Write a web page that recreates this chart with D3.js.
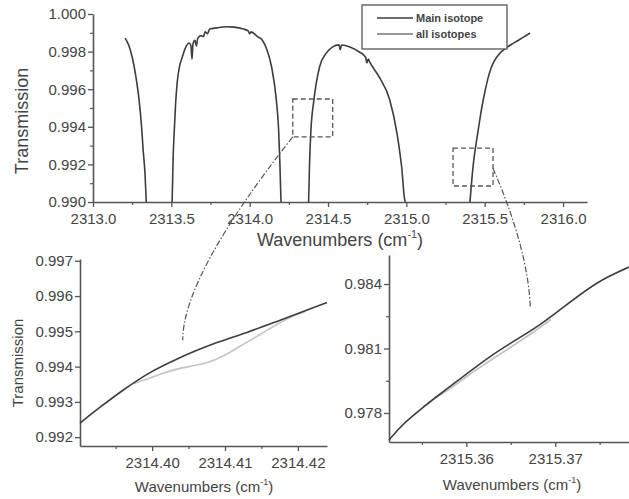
<!DOCTYPE html>
<html>
<head>
<meta charset="utf-8">
<script src="https://cdn.jsdelivr.net/npm/d3@7"></script>
<style>
  body { margin: 0; background: #fff; }
  svg text { font-family: Arial, "Liberation Sans", sans-serif; fill: #444; }
</style>
</head>
<body>
<svg id="chart" width="629" height="499"></svg>
<script>
// ---- data ----
// overview panel: transmission between the absorption lines, one array per window
var topBand1 = [[2313.205,0.99872],[2313.23,0.9983],[2313.25,0.99771],[2313.275,0.9966],[2313.294,0.99543],[2313.31,0.9940],[2313.32,0.99277],[2313.332,0.9915],[2313.34,0.9900]];
var topBand2 = [[2313.505,0.9900],[2313.512,0.9925],[2313.518,0.99367],[2313.527,0.9952],[2313.537,0.99633],[2313.552,0.9972],[2313.57,0.99771],[2313.59,0.9982],[2313.614,0.99846],[2313.625,0.9983],[2313.632,0.9976],[2313.638,0.9984],[2313.65,0.9986],[2313.66,0.9983],[2313.668,0.9987],[2313.69,0.99885],[2313.705,0.9988],[2313.715,0.99905],[2313.73,0.99895],[2313.745,0.9992],[2313.79,0.99926],[2313.85,0.99932],[2313.9,0.9993],[2313.96,0.9992],[2313.99,0.9991],[2314.0,0.99895],[2314.01,0.99905],[2314.05,0.9988],[2314.08,0.99862],[2314.11,0.9981],[2314.14,0.99718],[2314.17,0.99543],[2314.185,0.9938],[2314.193,0.9920],[2314.2,0.9900]];
var topBand3 = [[2314.376,0.9900],[2314.382,0.9920],[2314.39,0.99367],[2314.41,0.99543],[2314.446,0.99718],[2314.49,0.99793],[2314.53,0.99825],[2314.57,0.99836],[2314.578,0.9981],[2314.586,0.99835],[2314.64,0.99825],[2314.70,0.99798],[2314.74,0.9977],[2314.748,0.9974],[2314.757,0.9976],[2314.766,0.99745],[2314.83,0.9966],[2314.894,0.99543],[2314.94,0.99367],[2314.97,0.99186],[2314.99,0.9901],[2314.995,0.9900]];
var topBand4 = [[2315.406,0.9900],[2315.418,0.9912],[2315.43,0.9922],[2315.445,0.9931],[2315.46,0.9939],[2315.475,0.9947],[2315.49,0.9954],[2315.505,0.9960],[2315.52,0.99655],[2315.54,0.99710],[2315.56,0.99748],[2315.59,0.99785],[2315.63,0.99815],[2315.67,0.99838],[2315.71,0.99858],[2315.75,0.99878],[2315.79,0.99899]];

// zoom 1 (left)
var zoomLeftMain = [[2314.3901,0.99240],[2314.3930,0.99287],[2314.3960,0.99333],[2314.3993,0.99378],[2314.4038,0.99425],[2314.4089,0.99468],[2314.4130,0.99497],[2314.4175,0.99531],[2314.4210,0.99558],[2314.4240,0.99582]];
var zoomLeftAll = [[2314.3975,0.99352],[2314.3995,0.99366],[2314.4015,0.99381],[2314.4038,0.99395],[2314.4060,0.99404],[2314.4078,0.99413],[2314.4100,0.99433],[2314.4125,0.99463],[2314.4150,0.99493],[2314.4170,0.99518],[2314.4190,0.99540],[2314.4210,0.99556]];

// zoom 2 (right)
var zoomRightMain = [[2315.3513,0.97674],[2315.3525,0.97730],[2315.3552,0.97828],[2315.3581,0.97921],[2315.3626,0.98060],[2315.3682,0.98209],[2315.3753,0.98419],[2315.3783,0.98479]];
var zoomRightAll = [[2315.3565,0.97872],[2315.3581,0.97912],[2315.3605,0.97983],[2315.3638,0.98074],[2315.3661,0.98136],[2315.3685,0.98205],[2315.3695,0.98235]];

// tick labels
var topXTicks = [2313.0, 2313.5, 2314.0, 2314.5, 2315.0, 2315.5, 2316.0];
var topYTicks = [0.990, 0.992, 0.994, 0.996, 0.998, 1.000];
var leftXTicks = [2314.40, 2314.41, 2314.42];
var leftYTicks = [0.992, 0.993, 0.994, 0.995, 0.996, 0.997];
var rightXTicks = [2315.36, 2315.37];
var rightYTicks = [0.978, 0.981, 0.984];

// zoom boxes drawn on the overview, in data units
var boxes = [
  {x0: 2314.275, x1: 2314.53, y0: 0.99346, y1: 0.99548},
  {x0: 2315.298, x1: 2315.553, y0: 0.99085, y1: 0.99287}
];

var legendNames = ["Main isotope", "all isotopes"];

var svg = d3.select("#chart");
var axisCol = "#555", mainCol = "#3d3d3d", allCol = "#c4c4c4";

// ---- scales ----
var xTop = d3.scaleLinear().domain([2313.0, 2316.153]).range([93, 587]);
var yTop = d3.scaleLinear().domain([0.990, 1.000]).range([202, 14]);
var xL = d3.scaleLinear().domain([2314.3901, 2314.424]).range([80, 327]);
var yL = d3.scaleLinear().domain([0.99175, 0.99705]).range([446, 259]);
var xR = d3.scaleLinear().domain([2315.3513, 2315.3783]).range([389, 629]);
var yR = d3.scaleLinear().domain([0.97665, 0.98535]).range([442, 255]);

function styleAxis(g) {
  g.select(".domain").attr("stroke", axisCol).attr("stroke-width", 1.6);
  g.selectAll(".tick line").attr("stroke", axisCol).attr("stroke-width", 1.3);
  g.selectAll(".tick text").attr("fill", "#444").style("font-size", "15px")
    .style("font-family", "Arial, 'Liberation Sans', sans-serif");
}

function minorAxis(g, axis) {
  g.call(axis);
  g.select(".domain").remove();
  g.selectAll(".tick text").remove();
  g.selectAll(".tick line").attr("stroke", axisCol).attr("stroke-width", 1.2);
}

function panel(x, y, xt, yt, xminor, yminor, xfmt, yfmt) {
  var xb = y.range()[0], yb = x.range()[0];
  var gx = svg.append("g").attr("transform", "translate(0," + xb + ")");
  minorAxis(gx.append("g"), d3.axisBottom(x).tickValues(xminor).tickSize(3));
  gx.append("g").call(d3.axisBottom(x).tickValues(xt).tickFormat(d3.format(xfmt)).tickSize(5).tickSizeOuter(0).tickPadding(6)).call(styleAxis);
  var gy = svg.append("g").attr("transform", "translate(" + yb + ",0)");
  if (yminor.length) minorAxis(gy.append("g"), d3.axisLeft(y).tickValues(yminor).tickSize(3));
  gy.append("g").call(d3.axisLeft(y).tickValues(yt).tickFormat(d3.format(yfmt)).tickSize(5).tickSizeOuter(0).tickPadding(2)).call(styleAxis);
}

panel(xTop, yTop, topXTicks, topYTicks,
  d3.range(2313.25, 2316.1, 0.5), d3.range(0.991, 1.0, 0.002), ".1f", ".3f");
panel(xL, yL, leftXTicks, leftYTicks,
  [2314.395, 2314.405, 2314.415], [], ".2f", ".3f");
panel(xR, yR, rightXTicks, rightYTicks,
  [2315.355, 2315.365, 2315.375], [0.9795, 0.9825], ".2f", ".3f");

// ---- curves ----
function drawLine(data, x, y, col, w) {
  var line = d3.line().x(function(d) { return x(d[0]); }).y(function(d) { return y(d[1]); })
    .curve(d3.curveMonotoneX);
  svg.append("path").datum(data).attr("d", line)
    .attr("fill", "none").attr("stroke", col).attr("stroke-width", w);
}

[topBand1, topBand2, topBand3, topBand4].forEach(function(b) { drawLine(b, xTop, yTop, mainCol, 1.6); });
drawLine(zoomLeftAll, xL, yL, allCol, 1.6);
drawLine(zoomLeftMain, xL, yL, mainCol, 1.6);
drawLine(zoomRightAll, xR, yR, allCol, 1.8);
drawLine(zoomRightMain, xR, yR, mainCol, 1.6);

// ---- zoom boxes and connectors ----
boxes.forEach(function(b) {
  svg.append("rect")
    .attr("x", xTop(b.x0)).attr("y", yTop(b.y1))
    .attr("width", xTop(b.x1) - xTop(b.x0)).attr("height", yTop(b.y0) - yTop(b.y1))
    .attr("fill", "none").attr("stroke", "#555").attr("stroke-width", 1.3)
    .attr("stroke-dasharray", "5,3");
});

// connector 1: lower-left corner of box 1 to the left zoom panel
var c1s = [xTop(boxes[0].x0), yTop(boxes[0].y0)];
var c1e = [xL(2314.4042), yL(0.99475)];
svg.append("path")
  .attr("d", "M" + c1s + " Q" + [c1e[0], c1e[1] - 64] + " " + c1e)
  .attr("fill", "none").attr("stroke", "#555").attr("stroke-width", 1.2)
  .attr("stroke-dasharray", "6,2,1.5,2");

// connector 2: right side of box 2 to the right zoom panel
var c2s = [xTop(boxes[1].x1), yTop(0.99180)];
var c2e = [xR(2315.3672), yR(0.98288)];
svg.append("path")
  .attr("d", "M" + c2s + " Q" + [c2e[0] - 2, c2e[1] - 58] + " " + c2e)
  .attr("fill", "none").attr("stroke", "#555").attr("stroke-width", 1.2)
  .attr("stroke-dasharray", "6,2,1.5,2");

// ---- axis titles ----
function wavenumberLabel(x, y, size) {
  var t = svg.append("text").attr("x", x).attr("y", y).attr("text-anchor", "middle")
    .style("font-size", size + "px");
  t.append("tspan").text("Wavenumbers (cm");
  t.append("tspan").text("-1").attr("dy", -size * 0.45).style("font-size", (size * 0.6) + "px");
  t.append("tspan").text(")").attr("dy", size * 0.45);
}
wavenumberLabel(340, 246, 18);
wavenumberLabel(204, 492, 15);
wavenumberLabel(512, 490, 15);

svg.append("text").attr("transform", "translate(28,121) rotate(-90)")
  .attr("text-anchor", "middle").style("font-size", "18px").text("Transmission");
svg.append("text").attr("transform", "translate(23,363) rotate(-90)")
  .attr("text-anchor", "middle").style("font-size", "15px").text("Transmission");

// ---- legend ----
var lg = svg.append("g");
lg.append("rect").attr("x", 362).attr("y", 5).attr("width", 145).attr("height", 44)
  .attr("fill", "#fff").attr("stroke", "#555").attr("stroke-width", 1.3);
legendNames.forEach(function(n, i) {
  var yy = 18 + i * 16;
  lg.append("line").attr("x1", 377).attr("x2", 413).attr("y1", yy).attr("y2", yy)
    .attr("stroke", i === 0 ? mainCol : "#777").attr("stroke-width", 1.4);
  lg.append("text").attr("x", 416).attr("y", yy + 4).style("font-size", "11px")
    .style("font-weight", "bold").text(n);
});
</script>
</body>
</html>
